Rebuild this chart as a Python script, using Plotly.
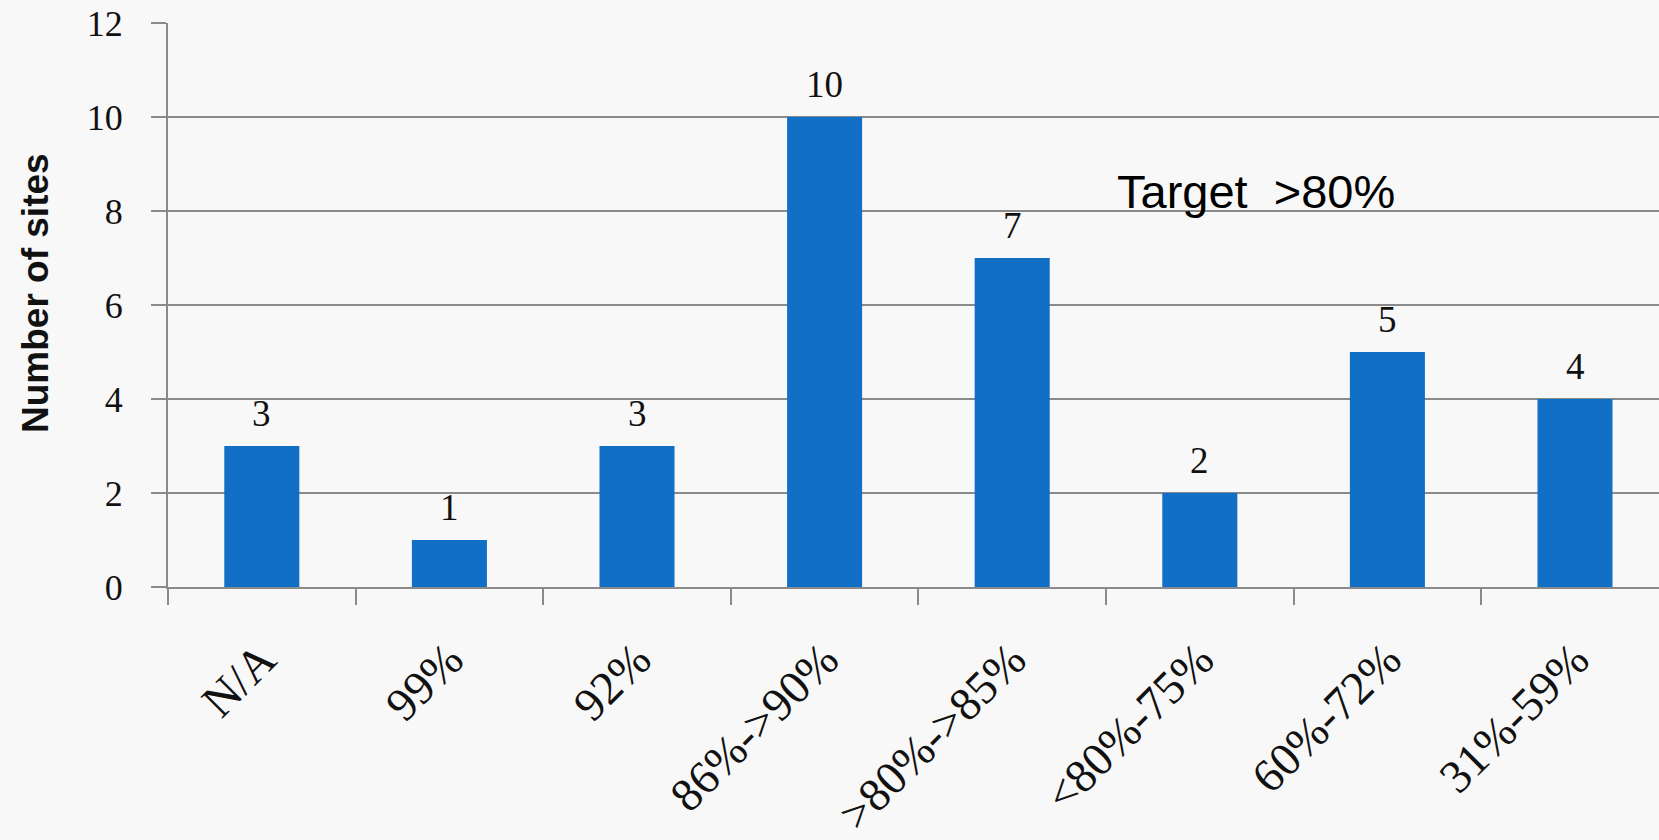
import plotly.graph_objects as go

# Sites grouped by achieved rate
categories = ["N/A", "99%", "92%", "86%->90%", ">80%->85%", "<80%-75%", "60%-72%", "31%-59%"]
site_counts = [3, 1, 3, 10, 7, 2, 5, 4]
y_ticks = [0, 2, 4, 6, 8, 10, 12]
target_note = "Target\u00a0\u00a0>80%"
y_title = "Number of sites"

W, H = 1659, 840
L, R, T, B = 168, 0, 23, 253

BAR = "#126FC6"
GRID = "#8a8a8a"
BG = "#f8f8f8"
SERIF = "Liberation Serif"
SANS = "Liberation Sans"

fig = go.Figure()
fig.add_trace(go.Bar(
    x=categories,
    y=site_counts,
    width=0.40,
    marker=dict(color=BAR, line=dict(width=0)),
    hoverinfo="skip",
))

# value labels above each bar
for c, v in zip(categories, site_counts):
    fig.add_annotation(
        x=c, y=v, xref="x", yref="y",
        text=str(v), showarrow=False,
        yanchor="bottom", yshift=10,
        font=dict(family=SERIF, size=37, color="#111111"),
    )

plot_w = W - L - R
fig.add_annotation(
    xref="paper", yref="paper",
    x=(35 - L) / plot_w, y=0.5 + (305 - 293) / (H - T - B),
    text="<b>" + y_title + "</b>", textangle=-90, showarrow=False,
    xanchor="center", yanchor="middle",
    font=dict(family=SANS, size=37, color="#111111"),
)

fig.add_annotation(
    xref="paper", yref="y",
    x=(1115 - L) / plot_w, y=8.42,
    text=target_note, showarrow=False,
    xanchor="left", yanchor="middle",
    font=dict(family=SANS, size=47, color="#000000"),
)

fig.update_layout(
    width=W, height=H,
    margin=dict(l=L, r=R, t=T, b=B, autoexpand=False),
    paper_bgcolor=BG, plot_bgcolor=BG,
    showlegend=False,
    bargap=0.6,
)

fig.update_xaxes(
    type="category",
    range=[-0.5, -0.5 + (W - L) / 187.6],
    showgrid=False,
    showline=True, linecolor=GRID, linewidth=2,
    ticks="outside", ticklen=16, tickwidth=2, tickcolor=GRID,
    tickson="boundaries",
    tickangle=-45,
    ticklabelstandoff=24,
    tickfont=dict(family=SERIF, size=47, color="#111111"),
    automargin=False,
    zeroline=False,
)

fig.update_yaxes(
    range=[0, 12],
    tickvals=y_ticks,
    showgrid=True, gridcolor=GRID, gridwidth=2,
    showline=True, linecolor=GRID, linewidth=2,
    ticks="outside", ticklen=15, tickwidth=2, tickcolor=GRID,
    ticklabelstandoff=21,
    tickfont=dict(family=SERIF, size=36, color="#111111"),
    automargin=False,
    zeroline=False,
)

fig.write_html("out.html")
